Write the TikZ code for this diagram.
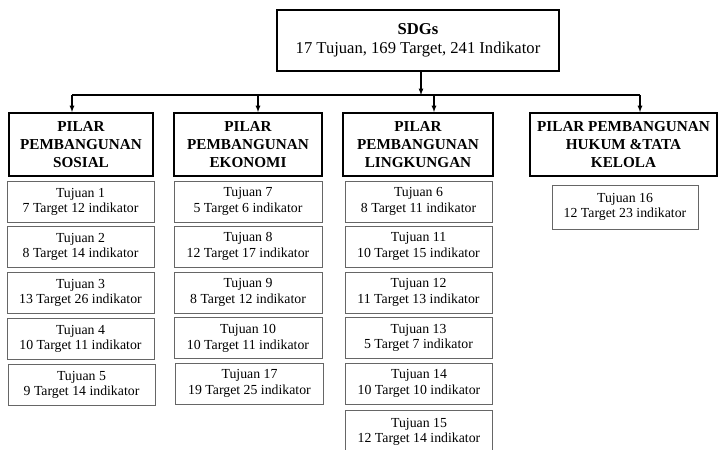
\documentclass[tikz,border=0pt]{standalone}
\usepackage{fontspec}
\setmainfont{Liberation Serif}
\begin{document}
\begin{tikzpicture}[x=1pt, y=-1pt,
		topbox/.style={draw=black, line width=1.2pt, inner sep=0pt, minimum width=282pt, minimum height=61pt, align=center, execute at begin node={\rule{0pt}{19pt}}, font=\fontsize{16.6}{19.5}\selectfont},
		pilarbox/.style={draw=black, line width=1.8pt, inner sep=0pt, minimum height=63pt, align=center, execute at begin node={\rule{0pt}{15pt}}, font=\fontsize{15.2}{18}\selectfont\bfseries},
		tujuanbox/.style={draw=black!60, line width=0.9pt, inner sep=0pt, minimum width=147pt, minimum height=41pt, align=center, execute at begin node={\rule{0pt}{14.5pt}}, font=\fontsize{13.8}{15.8}\selectfont},
		busline/.style={draw=black, line width=1.5pt},
		busarrow/.style={draw=black, -latex, line width=1.2pt}]
		\useasboundingbox (0,0) rectangle (718,450);
		% top
		\node[topbox] (sdgs) at (418,40.5) {\textbf{SDGs}\\17 Tujuan, 169 Target, 241 Indikator};
		% pillars
		\node[pilarbox, minimum width=144pt] (sosial) at (81,144.5) {PILAR\\PEMBANGUNAN\\SOSIAL};
		\node[pilarbox, minimum width=148pt] (ekonomi) at (248,144.5) {PILAR\\PEMBANGUNAN\\EKONOMI};
		\node[pilarbox, minimum width=150pt] (lingkungan) at (418,144.5) {PILAR\\PEMBANGUNAN\\LINGKUNGAN};
		\node[pilarbox, minimum width=187pt] (hukum) at (623.5,144.5) {PILAR PEMBANGUNAN\\HUKUM \&TATA\\KELOLA};
		% bus
		\coordinate (bustop) at (421,95);
		\coordinate (bus1) at (72,95);
		\coordinate (bus2) at (258,95);
		\coordinate (bus3) at (434,95);
		\coordinate (bus4) at (640,95);
		\draw[busline] (bus1) -- (bus4);
		\draw[busarrow] (sdgs.south -| bustop) -- (bustop);
		\draw[busarrow] (bus1) -- (bus1 |- sosial.north);
		\draw[busarrow] (bus2) -- (bus2 |- ekonomi.north);
		\draw[busarrow] (bus3) -- (bus3 |- lingkungan.north);
		\draw[busarrow] (bus4) -- (bus4 |- hukum.north);
		% sosial
		\node[tujuanbox] (t1) at (80.5,202) {Tujuan 1\\7 Target 12 indikator};
		\node[tujuanbox] (t2) at (80.5,247) {Tujuan 2\\8 Target 14 indikator};
		\node[tujuanbox] (t3) at (80.5,293) {Tujuan 3\\13 Target 26 indikator};
		\node[tujuanbox] (t4) at (80.5,339) {Tujuan 4\\10 Target 11 indikator};
		\node[tujuanbox] (t5) at (81.5,385) {Tujuan 5\\9 Target 14 indikator};
		% ekonomi
		\node[tujuanbox, minimum width=148pt] (t7) at (248,201.5) {Tujuan 7\\5 Target 6 indikator};
		\node[tujuanbox, minimum width=148pt] (t8) at (248,246.5) {Tujuan 8\\12 Target 17 indikator};
		\node[tujuanbox, minimum width=148pt] (t9) at (248,292.5) {Tujuan 9\\8 Target 12 indikator};
		\node[tujuanbox, minimum width=148pt] (t10) at (248,338) {Tujuan 10\\10 Target 11 indikator};
		\node[tujuanbox, minimum width=148pt] (t17) at (249.5,383.5) {Tujuan 17\\19 Target 25 indikator};
		% lingkungan
		\node[tujuanbox] (t6) at (418.5,201.5) {Tujuan 6\\8 Target 11 indikator};
		\node[tujuanbox] (t11) at (418.5,246.5) {Tujuan 11\\10 Target 15 indikator};
		\node[tujuanbox] (t12) at (418.5,292.5) {Tujuan 12\\11 Target 13 indikator};
		\node[tujuanbox] (t13) at (418.5,338) {Tujuan 13\\5 Target 7 indikator};
		\node[tujuanbox] (t14) at (419,383.5) {Tujuan 14\\10 Target 10 indikator};
		\node[tujuanbox, minimum height=44pt] (t15) at (419,432) {Tujuan 15\\12 Target 14 indikator};
		% hukum
		\node[tujuanbox, minimum width=146pt, minimum height=44pt] (t16) at (625,207) {Tujuan 16\\12 Target 23 indikator};
	\end{tikzpicture}
\end{document}
